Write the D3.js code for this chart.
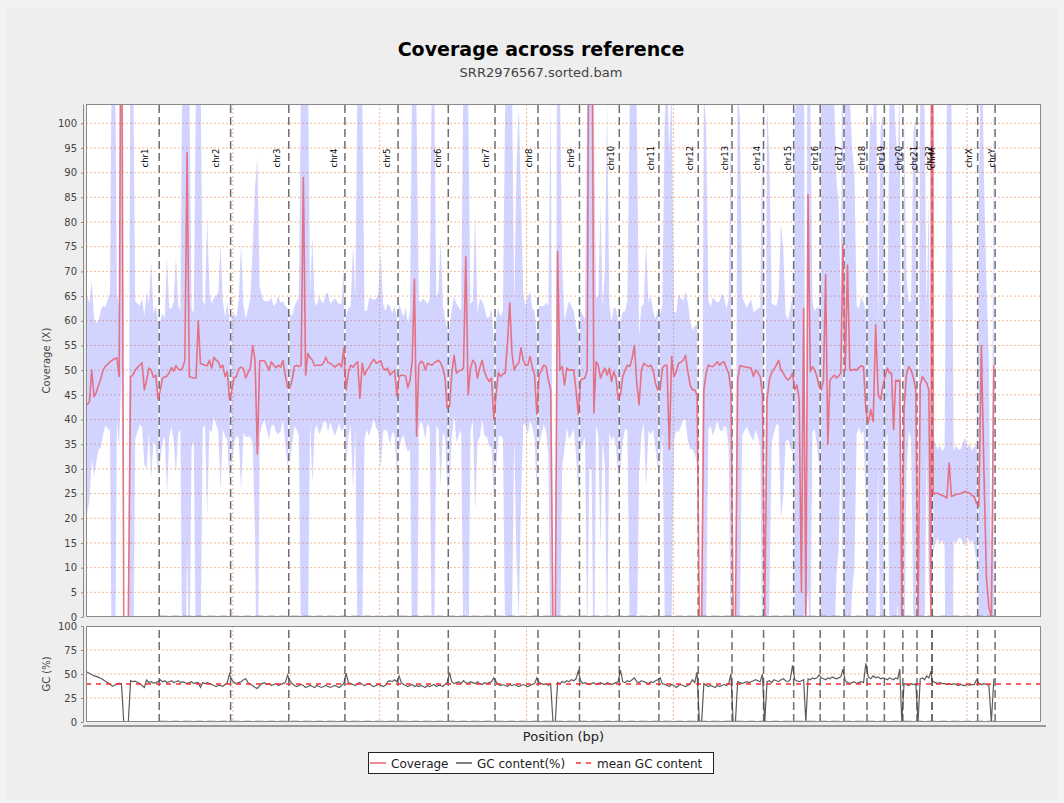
<!DOCTYPE html>
<html>
<head>
<meta charset="utf-8">
<script src="https://cdn.jsdelivr.net/npm/d3@7"></script>
<style>
  body { margin: 0; background: #eeeeee; }
  text { font-family: "DejaVu Sans", sans-serif; }
</style>
</head>
<body>
<svg id="chart" width="1064" height="803"></svg>
<script>
// chromosomes in reference order (hg19)
var chromNames = ['chr1','chr2','chr3','chr4','chr5','chr6','chr7','chr8','chr9','chr10','chr11','chr12',
  'chr13','chr14','chr15','chr16','chr17','chr18','chr19','chr20','chr21','chr22','chrM','chrX','chrY'];
var chromLengths = [249250621, 243199373, 198022430, 191154276, 180915260, 171115067, 159138663, 146364022,
  141213431, 135534747, 135006516, 133851895, 115169878, 107349540, 102531392, 90354753, 81195210, 78077248,
  59128983, 63025520, 48129895, 51304566, 16571, 155270560, 59373566];

// mean coverage per window, one row per chromosome
var coverage = [
  [43,43.6,50,44.6,45.5,47,48.3,50,50.8,51.2,51.7,52,52.3,52.5,48.7,150,0,0,0,48.7,49,50,50.5,51,51.5,46,48,50.4,50,48.5,49,44],
  [46,48.4,48.6,48.8,49.5,50.5,49.8,50.9,50.2,50,50.5,52,94,48.7,48.5,48.4,48.4,60,51.3,51.2,51,50.9,52,50.4,52.6,52,51.7,50.5,51,48.7,49.7,44],
  [46,48.4,48.7,50.3,50.6,50.3,48.4,49.5,50.5,55,52,33,51.9,51.9,51.9,51,50,51.7,51,50.5,51,50.6,52,49,46.5],
  [46.4,48,50.8,51,50.7,51,89,49,53.4,52.5,52,50.9,51,51,51,51.5,52.6,51.5,51.4,51,50.6,51,51.3,50.6,54.4],
  [46,49.5,51,50.6,51.2,51.7,44.3,51.4,49,50,50.6,51.5,52.2,51.4,51.6,51.9,50.5,50,50.4,49,49.5,50,44.7],
  [48.7,49,48.9,48.8,46.4,48,52,68.4,36.6,51,51.8,51.5,50,51.4,51.2,51,51.5,51.7,52,51.5,50.4,48.4,42.3],
  [42.6,49.4,53,49.4,49.8,50,50.4,73,45,50.4,52,51.4,48.4,50.5,52,49.7,48.5,47.7,48.4,40],
  [45.3,49.5,48.7,49.2,49.4,55.5,63.6,53.4,50,51,51.4,54.5,52,51,51,52.8,50.5,49,41],
  [49,50,51,50.7,48,46,0,0,74,50,50.7,47,50.4,50,50,50,46,41],
  [48,48.2,48.4,50,150,150,41.3,51.7,51,48.4,49.5,50.4,49,50.4,47.7,49.7,48.5,44],
  [45,48.7,50,51,50.7,52.4,55,47.4,43,50,51.4,51,50.7,51,50,47.4,46],
  [46,50.4,51,51,34,52.8,48.7,49.7,51.4,51.6,52,53,49.7,47,46,46,45],
  [0,0,46,49.4,51,50.8,50.7,51.2,51.7,51,51.5,51.7,50.4,49.4,46],
  [0,0,48,50.9,50.8,50.7,50.6,50.5,50.4,48.7,50,49.5,48.7,45],
  [0,44,48,49.5,50.2,51,52,50,49.4,48.5,48,48.4,49.4],
  [46,47,44,5,62.5,0,85.5,49.7,50.7,50,48.7,46.7],
  [46,48,69.3,35,48,48.5,49,48.4,48.8,49.4,75.4],
  [50,71.3,50,50,50.2,50,50.5,50.9,50.7,42],
  [39.3,42,39.6,59.2,45,44,47],
  [49,50.4,49.4,49.4,38,48,47.7,48,0],
  [42,49,50.7,50,48.4,46],
  [0,47,48.7,48,47.4,46,0],
  [300],
  [24.8,25.1,25,24.8,24.6,24.4,24.1,31.2,24.4,24.6,24.8,24.9,25,25.2,25.4,25.2,25.1,24.6,24.4,23],
  [22.5,55,30,8,2,0,51]
];

// standard deviation of coverage per window
var coverageSd = [
  [22,20,18,16,14,13,14,13,12,13,14,80,80,13,14,100,0,0,0,80,70,14,13,12,13,15,18,13,22,13,14,16],
  [14,13,12,24,13,12,14,22,13,12,70,70,80,60,14,13,60,70,60,13,12,30,14,13,12,13,14,25,13,12,14,16],
  [15,13,12,14,25,13,12,13,14,20,35,60,15,13,12,13,14,13,12,13,14,13,12,14,16],
  [15,13,12,13,14,60,90,70,60,13,25,13,12,14,13,12,13,14,12,13,14,13,12,13,16],
  [15,13,12,25,13,60,70,55,13,12,14,13,12,13,14,22,13,12,13,14,12,13,16],
  [15,13,12,14,13,14,60,70,65,13,12,13,14,12,13,60,60,13,14,25,13,12,16],
  [16,13,12,14,13,12,60,70,60,13,12,30,13,14,12,13,12,13,14,16],
  [15,13,12,13,55,60,70,55,13,40,52,30,13,12,14,13,12,13,16],
  [14,13,12,13,15,60,0,0,80,60,20,13,12,14,13,12,13,16],
  [14,13,12,55,120,120,60,13,14,35,13,20,55,13,12,13,14,16],
  [15,13,12,13,55,60,60,55,14,13,12,25,13,14,12,13,16],
  [15,13,50,60,60,55,13,12,14,13,12,13,14,13,12,13,14],
  [0,0,60,50,13,12,14,13,12,13,14,13,12,15,55],
  [0,0,60,50,14,13,12,13,14,13,12,13,14,55],
  [0,60,45,14,13,12,13,30,25,13,12,14,16],
  [55,60,60,100,70,0,80,55,13,12,14,16],
  [60,60,70,70,60,60,55,40,35,14,70],
  [60,70,55,45,40,13,12,14,13,20],
  [50,60,60,65,14,55,55],
  [14,13,55,60,70,50,45,60,0],
  [60,20,13,14,50,55],
  [0,60,60,55,14,40,0],
  [0],
  [12,10,9,10,9,10,80,90,80,9,10,9,9,10,11,9,10,9,10,12],
  [60,70,60,60,50,0,60]
];

// GC content (%) per window
var gcContent = [
  [52,50.5,49.5,48,47.5,46.5,45.5,44,42.5,41,39.5,37.5,38,40,40.3,40,0,0,0,43,42,42.5,41.5,40,38,36,43.7,41,42,40.5,41,42],
  [44,42,43,41,42,43,41,42,43,41,42,41,40,41,42,40,41,41,36,41,40,41,40,39,38,37,38,38,37,39,41,50],
  [44,41,40,41,42,44,45,41,39,38,36,35,38,40,41,39,40,38,39,40,38,39,40,41,48.6],
  [43,40,38,37,38,39,38,36,37,38,37,36,38,37,36,37,38,37,36,37,38,37,36,38,40],
  [50.7,41,40,39,38,40,41,39,38,39,40,38,37,38,39,38,37,38,42,43,42,44,42],
  [48,41,39,38,37,38,39,37,38,37,38,37,36,38,37,38,39,37,38,38,37,39,41],
  [51.4,42,40,41,42,40,43,41,40,42,41,40,42,40,39,41,40,41,42,46],
  [42,39,38,39,38,37,39,38,39,38,37,38,39,38,37,38,39,40,46],
  [41,40,39,40,38,40,0,0,41,40,42,41,43,42,44,43,45,53],
  [43,40,41,40,39,40,41,39,40,41,40,39,41,40,39,40,41,42],
  [54,42,41,43,42,44,46,42,41,43,42,41,40,42,41,43,44],
  [46,40,39,38,37,39,38,36,38,39,38,37,38,40,44,41,52],
  [0,0,40,38,37,38,37,36,38,37,38,39,38,40,50],
  [0,0,42,41,40,41,42,41,42,43,44,43,42,49.9],
  [0,42,43,41,44,43,42,44,45,43,42,44,59],
  [44,43,42,43,44,0,45,44,46,45,46,49],
  [46,45,44,46,45,47,46,45,46,47,55],
  [43,41,40,41,42,40,41,42,41,61],
  [47,45,48,46,47,45,46],
  [45,44,46,45,44,46,45,55,0],
  [40,39,38,40,39,40],
  [0,45,46,44,48,46,53],
  [44],
  [42,41,40,41,40,40,39,40,39,40,39,38,39,38.5,38,39,38.5,39,39,44],
  [40,39,40,39,38,0,45]
];

var meanGc = 39.6;
var covTicks = d3.range(0, 101, 5);
var gcTicks = [0, 25, 50, 75, 100];
var posTickStep = 5e8;

// ---- layout ----
var plotL = 86, plotR = 1041;
var covTop = 104, covBottom = 617;
var gcTop = 626, gcBottom = 722;
var xMax = 3.252e9;

var svg = d3.select('#chart');
svg.append('rect').attr('width', 1064).attr('height', 803).attr('fill', '#f2f2f2');
svg.append('rect').attr('x', 7).attr('y', 7).attr('width', 1050).attr('height', 793).attr('fill', '#eeeeee');

var x = d3.scaleLinear().domain([0, xMax]).range([plotL, plotR]);
var yCov = d3.scaleLinear().domain([0, 103.9]).range([covBottom, covTop]);
var yGc = d3.scaleLinear().domain([0, 100]).range([gcBottom, gcTop]);

// flatten the windows, positions at the window centres
var windows = [];
var chromStarts = [];
var offset = 0;
chromNames.forEach(function (name, i) {
  var len = chromLengths[i];
  var n = coverage[i].length;
  chromStarts.push(offset);
  for (var j = 0; j < n; j++) {
    windows.push({
      pos: offset + (j + 0.5) * len / n,
      cov: coverage[i][j],
      sd: coverageSd[i][j],
      gc: gcContent[i][j]
    });
  }
  offset += len;
});
var chromEnds = chromStarts.map(function (s, i) { return s + chromLengths[i]; });

// clip paths
var defs = svg.append('defs');
defs.append('clipPath').attr('id', 'clipCov').append('rect')
  .attr('x', plotL).attr('y', covTop).attr('width', plotR - plotL).attr('height', covBottom - covTop);
defs.append('clipPath').attr('id', 'clipGc').append('rect')
  .attr('x', plotL).attr('y', gcTop).attr('width', plotR - plotL).attr('height', gcBottom - gcTop);

// title
svg.append('text').attr('x', 541).attr('y', 56).attr('text-anchor', 'middle')
  .style('font-size', '19px').style('font-weight', 'bold').attr('fill', '#000')
  .text('Coverage across reference');
svg.append('text').attr('x', 541).attr('y', 77).attr('text-anchor', 'middle')
  .style('font-size', '13px').attr('fill', '#444')
  .text('SRR2976567.sorted.bam');

// plot backgrounds
[[covTop, covBottom], [gcTop, gcBottom]].forEach(function (p) {
  svg.append('rect').attr('x', plotL).attr('y', p[0]).attr('width', plotR - plotL).attr('height', p[1] - p[0])
    .attr('fill', '#ffffff');
});

var posTicks = d3.range(posTickStep, xMax, posTickStep);
var gridColor = '#f2a574';

function drawGrid(g, yScale, yTicks, top, bottom) {
  g.selectAll('line.h').data(yTicks).enter().append('line')
    .attr('x1', plotL).attr('x2', plotR)
    .attr('y1', function (d) { return yScale(d); }).attr('y2', function (d) { return yScale(d); })
    .attr('stroke', gridColor).attr('stroke-width', 0.8).attr('stroke-dasharray', '2,2');
  g.selectAll('line.v').data(posTicks).enter().append('line')
    .attr('x1', function (d) { return x(d); }).attr('x2', function (d) { return x(d); })
    .attr('y1', top).attr('y2', bottom)
    .attr('stroke', gridColor).attr('stroke-width', 0.8).attr('stroke-dasharray', '2,2');
}

// ---- coverage panel ----
var cov = svg.append('g').attr('clip-path', 'url(#clipCov)');
drawGrid(cov, yCov, covTicks, covTop, covBottom);

var band = d3.area()
  .x(function (d) { return x(d.pos); })
  .y0(function (d) { return yCov(d.cov - d.sd); })
  .y1(function (d) { return yCov(d.cov + d.sd); });
cov.append('path').datum(windows).attr('d', band)
  .attr('fill', 'rgb(110,110,255)').attr('fill-opacity', 0.3);

function drawBoundaries(g, yScale, top) {
  var ends = chromEnds;
  g.selectAll('line.bw').data(ends).enter().append('line')
    .attr('x1', function (d) { return x(d); }).attr('x2', function (d) { return x(d); })
    .attr('y1', yScale(0)).attr('y2', top)
    .attr('stroke', '#ffffff').attr('stroke-width', 1.5);
  g.selectAll('line.bd').data(ends).enter().append('line')
    .attr('x1', function (d) { return x(d); }).attr('x2', function (d) { return x(d); })
    .attr('y1', yScale(0)).attr('y2', top)
    .attr('stroke', '#555').attr('stroke-opacity', 0.85).attr('stroke-width', 1.5)
    .attr('stroke-dasharray', '8,4');
  g.append('line')
    .attr('x1', x(ends[0])).attr('x2', x(ends[ends.length - 1]))
    .attr('y1', yScale(0) - 0.5).attr('y2', yScale(0) - 0.5)
    .attr('stroke', '#555').attr('stroke-opacity', 0.85).attr('stroke-width', 1.5)
    .attr('stroke-dasharray', '8,4');
}
drawBoundaries(cov, yCov, covTop);

var covLine = d3.line()
  .x(function (d) { return x(d.pos); })
  .y(function (d) { return yCov(d.cov); });
cov.append('path').datum(windows).attr('d', covLine)
  .attr('fill', 'none').attr('stroke', '#e8606f').attr('stroke-opacity', 0.85).attr('stroke-width', 1.6)
  .attr('stroke-linejoin', 'round');

// chromosome names
svg.append('g').selectAll('text').data(chromNames).enter().append('text')
  .attr('transform', function (d, i) {
    return 'translate(' + x(chromStarts[i] + 0.8 * chromLengths[i]) + ',158) rotate(-90)';
  })
  .attr('text-anchor', 'middle').attr('dy', '0.35em')
  .style('font-size', '8.5px').attr('fill', '#000')
  .text(function (d) { return d; });

// ---- GC panel ----
var gc = svg.append('g').attr('clip-path', 'url(#clipGc)');
drawGrid(gc, yGc, gcTicks, gcTop, gcBottom);
drawBoundaries(gc, yGc, gcTop);

var gcLine = d3.line()
  .x(function (d) { return x(d.pos); })
  .y(function (d) { return yGc(d.gc); });
gc.append('path').datum(windows).attr('d', gcLine)
  .attr('fill', 'none').attr('stroke', '#404040').attr('stroke-opacity', 0.85).attr('stroke-width', 1.2);
gc.append('line').attr('x1', plotL).attr('x2', plotR)
  .attr('y1', yGc(meanGc)).attr('y2', yGc(meanGc))
  .attr('stroke', '#ff2a2a').attr('stroke-width', 1.3).attr('stroke-dasharray', '5,5');

// plot borders
[[covTop, covBottom], [gcTop, gcBottom]].forEach(function (p) {
  svg.append('rect').attr('x', plotL + 0.5).attr('y', p[0] + 0.5)
    .attr('width', plotR - plotL - 1).attr('height', p[1] - p[0] - 1)
    .attr('fill', 'none').attr('stroke', '#8a8a8a').attr('stroke-width', 1);
});

// ---- axes ----
function styleAxis(g) {
  g.select('.domain').attr('stroke', '#8a8a8a');
  g.selectAll('.tick line').attr('stroke', '#8a8a8a');
  g.selectAll('.tick text').style('font-size', '10px').attr('fill', '#444');
}
svg.append('g').attr('transform', 'translate(83,0)')
  .call(d3.axisLeft(yCov).tickValues(covTicks).tickSize(2).tickSizeOuter(0).tickPadding(4))
  .call(styleAxis);
svg.append('g').attr('transform', 'translate(83,0)')
  .call(d3.axisLeft(yGc).tickValues(gcTicks).tickSize(2).tickSizeOuter(0).tickPadding(4))
  .call(styleAxis);

// shared domain axis line
svg.append('line').attr('x1', 83).attr('x2', 1046).attr('y1', 726).attr('y2', 726)
  .attr('stroke', '#9a9a9a').attr('stroke-width', 2);

svg.append('text').attr('transform', 'translate(50,' + ((covTop + covBottom) / 2) + ') rotate(-90)')
  .attr('text-anchor', 'middle').style('font-size', '10px').attr('fill', '#444')
  .text('Coverage (X)');
svg.append('text').attr('transform', 'translate(50,' + ((gcTop + gcBottom) / 2) + ') rotate(-90)')
  .attr('text-anchor', 'middle').style('font-size', '10px').attr('fill', '#444')
  .text('GC (%)');
svg.append('text').attr('x', (plotL + plotR) / 2).attr('y', 741).attr('text-anchor', 'middle')
  .style('font-size', '13px').attr('fill', '#222')
  .text('Position (bp)');

// ---- legend ----
var legend = svg.append('g');
legend.append('rect').attr('x', 368.5).attr('y', 752.5).attr('width', 345).attr('height', 21)
  .attr('fill', '#ffffff').attr('stroke', '#222').attr('stroke-width', 1);
var legendItems = [
  { label: 'Coverage', x: 370, color: '#e8606f', dash: null },
  { label: 'GC content(%)', x: 456, color: '#555', dash: null },
  { label: 'mean GC content', x: 576, color: '#ff2a2a', dash: '5,5' }
];
legendItems.forEach(function (it) {
  legend.append('line').attr('x1', it.x).attr('x2', it.x + 16).attr('y1', 763).attr('y2', 763)
    .attr('stroke', it.color).attr('stroke-width', 1.5)
    .attr('stroke-dasharray', it.dash);
  legend.append('text').attr('x', it.x + 21).attr('y', 767.5)
    .style('font-size', '12px').attr('fill', '#222').text(it.label);
});
</script>
</body>
</html>
